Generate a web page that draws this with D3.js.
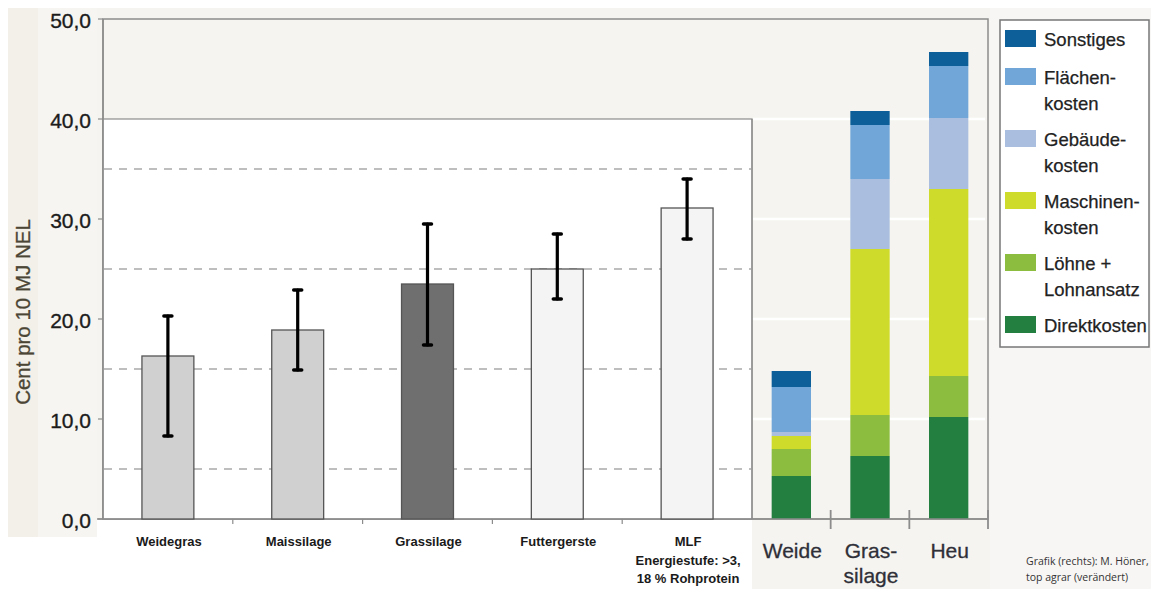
<!DOCTYPE html>
<html>
<head>
<meta charset="utf-8">
<script src="https://cdn.jsdelivr.net/npm/d3@7"></script>
<style>
  html, body { margin: 0; padding: 0; background: #fff; }
  svg { display: block; font-family: "Liberation Sans", Arial, sans-serif; }
</style>
</head>
<body>
<div id="chart"></div>
<script>
// left chart: mean cost per feed with min/max range
const leftCats = ["Weidegras", "Maissilage", "Grassilage", "Futtergerste", "MLF"];
const leftLabels = [["Weidegras"], ["Maissilage"], ["Grassilage"], ["Futtergerste"], ["MLF", "Energiestufe: >3,", "18 % Rohprotein"]];
const meanVals = [16.3, 18.9, 23.5, 25.0, 31.1];
const errLow = [8.3, 14.9, 17.4, 22.0, 28.0];
const errHigh = [20.3, 22.9, 29.5, 28.5, 34.0];

// right chart: cost components
const rightCats = ["Weide", "Grassilage", "Heu"];
const rightLabels = [["Weide"], ["Gras-", "silage"], ["Heu"]];
const costKeys = ["Direktkosten", "Löhne + Lohnansatz", "Maschinenkosten", "Gebäudekosten", "Flächenkosten", "Sonstiges"];
const direkt = [4.3, 6.3, 10.2];
const loehne = [2.7, 4.1, 4.1];
const maschinen = [1.3, 16.6, 18.7];
const gebaeude = [0.4, 7.0, 7.1];
const flaechen = [4.5, 5.4, 5.2];
const sonstiges = [1.6, 1.4, 1.4];

const yTicks = [0, 10, 20, 30, 40, 50];
const yTickLabels = ["0,0", "10,0", "20,0", "30,0", "40,0", "50,0"];
const dashTicks = [5, 15, 25, 35];
const legendOrder = ["Sonstiges", "Flächenkosten", "Gebäudekosten", "Maschinenkosten", "Löhne + Lohnansatz", "Direktkosten"];
const legendLines = [["Sonstiges"], ["Flächen-", "kosten"], ["Gebäude-", "kosten"], ["Maschinen-", "kosten"], ["Löhne +", "Lohnansatz"], ["Direktkosten"]];

const W = 1151, H = 589;
const colors = {
  "Direktkosten": "#237f3f",
  "Löhne + Lohnansatz": "#8cbd3f",
  "Maschinenkosten": "#cfdb2b",
  "Gebäudekosten": "#aabfdf",
  "Flächenkosten": "#70a7d8",
  "Sonstiges": "#0c5f99"
};
const barFill = ["#d0d0d0", "#d0d0d0", "#6f6f6f", "#f4f4f4", "#f4f4f4"];
const frame = "#8c8c8c";

const svg = d3.select("#chart").append("svg")
  .attr("width", W).attr("height", H);

// backgrounds of the two pasted pictures
svg.append("rect").attr("x", 0).attr("y", 0).attr("width", W).attr("height", H).attr("fill", "#fff");
svg.append("rect").attr("x", 8).attr("y", 8).attr("width", 982).attr("height", 511).attr("fill", "#f5f4f0");
svg.append("rect").attr("x", 8).attr("y", 8).attr("width", 89).attr("height", 529).attr("fill", "#f6f5f1");
svg.append("rect").attr("x", 8).attr("y", 8).attr("width", 30).attr("height", 529).attr("fill", "#f2f0e9");
svg.append("rect").attr("x", 752).attr("y", 8).attr("width", 238).attr("height", 581).attr("fill", "#f5f4f0");
svg.append("rect").attr("x", 990).attr("y", 8).attr("width", 161).attr("height", 581).attr("fill", "#f7f6f4");

const y = d3.scaleLinear().domain([0, 50]).range([519, 19]);

// outer frame
svg.append("rect").attr("x", 103).attr("y", y(50)).attr("width", 885).attr("height", y(0) - y(50))
  .attr("fill", "#f5f4f0").attr("stroke", frame).attr("stroke-width", 1.5);

// white plot area of left chart
svg.append("rect").attr("x", 103).attr("y", y(40)).attr("width", 649).attr("height", y(0) - y(40))
  .attr("fill", "#fff").attr("stroke", frame).attr("stroke-width", 1.2);

svg.selectAll(".dash").data(dashTicks).join("line")
  .attr("x1", 104).attr("x2", 751)
  .attr("y1", d => y(d)).attr("y2", d => y(d))
  .attr("stroke", "#a9a9a9").attr("stroke-width", 1.3).attr("stroke-dasharray", "8,7");

// right chart white grid
svg.selectAll(".rgrid").data([10, 20, 30, 40]).join("line")
  .attr("x1", 753).attr("x2", 985)
  .attr("y1", d => y(d)).attr("y2", d => y(d))
  .attr("stroke", "#fff").attr("stroke-width", 2.5);

// left y axis
svg.append("line").attr("x1", 103).attr("x2", 103).attr("y1", y(50)).attr("y2", y(0))
  .attr("stroke", frame).attr("stroke-width", 1.5);
svg.selectAll(".ytick").data(yTicks).join("line")
  .attr("x1", 98).attr("x2", 103).attr("y1", d => y(d)).attr("y2", d => y(d))
  .attr("stroke", frame).attr("stroke-width", 1.2);
svg.selectAll(".ylab").data(yTicks).join("text")
  .attr("x", 91).attr("y", d => y(d) + 9)
  .attr("text-anchor", "end").attr("font-size", 21).attr("fill", "#1c1c1c")
  .attr("stroke", "#1c1c1c").attr("stroke-width", 0.35)
  .text((d, i) => yTickLabels[i]);

svg.append("text")
  .attr("transform", "translate(30,312) rotate(-90)")
  .attr("text-anchor", "middle").attr("font-size", 20.5).attr("fill", "#4b4535")
  .attr("stroke", "#4b4535").attr("stroke-width", 0.3)
  .text("Cent pro 10 MJ NEL");

// left bars
const xL = d3.scaleBand().domain(leftCats).range([103, 752]).paddingInner(0.6).paddingOuter(0.3);
svg.append("line").attr("x1", 97).attr("x2", 752).attr("y1", y(0)).attr("y2", y(0))
  .attr("stroke", frame).attr("stroke-width", 1.5);
const bounds = leftCats.slice(1).map(c => xL(c) - xL.step() * xL.paddingInner() / 2);
svg.selectAll(".ltick").data(bounds).join("line")
  .attr("x1", d => d).attr("x2", d => d).attr("y1", y(0)).attr("y2", y(0) + 5)
  .attr("stroke", frame).attr("stroke-width", 1.2);

svg.selectAll(".lbar").data(leftCats).join("rect")
  .attr("x", d => xL(d)).attr("width", xL.bandwidth())
  .attr("y", (d, i) => y(meanVals[i])).attr("height", (d, i) => y(0) - y(meanVals[i]))
  .attr("fill", (d, i) => barFill[i]).attr("stroke", "#555").attr("stroke-width", 1.3);

const err = svg.append("g").attr("stroke", "#000").attr("stroke-linecap", "round");
leftCats.forEach((c, i) => {
  const cx = xL(c) + xL.bandwidth() / 2;
  err.append("line").attr("x1", cx).attr("x2", cx).attr("y1", y(errHigh[i])).attr("y2", y(errLow[i]))
    .attr("stroke-width", 3.2);
  [errHigh[i], errLow[i]].forEach(v => {
    err.append("line").attr("x1", cx - 4).attr("x2", cx + 4).attr("y1", y(v)).attr("y2", y(v))
      .attr("stroke-width", 3.5);
  });
});

svg.selectAll(".llab").data(leftCats).join("text")
  .attr("x", d => xL(d) + xL.bandwidth() / 2 + 1)
  .attr("y", 546)
  .attr("text-anchor", "middle").attr("font-size", 13).attr("font-weight", "bold").attr("fill", "#1a1a1a")
  .each(function (d, i) {
    const t = d3.select(this);
    leftLabels[i].forEach((line, k) => {
      t.append("tspan").attr("x", xL(d) + xL.bandwidth() / 2 + 1).attr("dy", k === 0 ? 0 : 18.6).text(line);
    });
  });

// right stacked bars
const xR = d3.scaleBand().domain(rightCats).range([752, 988]).paddingInner(0.5).paddingOuter(0.25);
const rows = rightCats.map((c, i) => ({
  cat: c,
  "Direktkosten": direkt[i],
  "Löhne + Lohnansatz": loehne[i],
  "Maschinenkosten": maschinen[i],
  "Gebäudekosten": gebaeude[i],
  "Flächenkosten": flaechen[i],
  "Sonstiges": sonstiges[i]
}));
const stacked = d3.stack().keys(costKeys)(rows);
svg.append("g").selectAll("g").data(stacked).join("g")
  .attr("fill", d => colors[d.key])
  .selectAll("rect").data(d => d).join("rect")
  .attr("x", d => xR(d.data.cat)).attr("width", xR.bandwidth())
  .attr("y", d => y(d[1])).attr("height", d => y(d[0]) - y(d[1]));

svg.append("line").attr("x1", 752).attr("x2", 988).attr("y1", y(0)).attr("y2", y(0))
  .attr("stroke", frame).attr("stroke-width", 1.5);
svg.append("line").attr("x1", 752).attr("x2", 752).attr("y1", y(40)).attr("y2", y(0))
  .attr("stroke", frame).attr("stroke-width", 1.3);
const rb = rightCats.slice(1).map(c => xR(c) - xR.step() * xR.paddingInner() / 2).concat([988]);
svg.selectAll(".rtick").data(rb).join("line")
  .attr("x1", d => d).attr("x2", d => d).attr("y1", 510).attr("y2", 529)
  .attr("stroke", frame).attr("stroke-width", 1.8);

svg.selectAll(".rlab").data(rightCats).join("text")
  .attr("y", 558)
  .attr("text-anchor", "middle").attr("font-size", 21).attr("fill", "#2f2f38")
  .attr("stroke", "#2f2f38").attr("stroke-width", 0.3)
  .each(function (d, i) {
    const t = d3.select(this);
    const cx = xR(d) + xR.bandwidth() / 2 + 1;
    rightLabels[i].forEach((line, k) => {
      t.append("tspan").attr("x", cx).attr("dy", k === 0 ? 0 : 25).text(line);
    });
  });

// legend
const lg = svg.append("g");
lg.append("rect").attr("x", 1000).attr("y", 20).attr("width", 149).attr("height", 327)
  .attr("fill", "#fff").attr("stroke", "#777").attr("stroke-width", 1.5);
let ly = 30;
legendOrder.forEach((key, i) => {
  lg.append("rect").attr("x", 1005).attr("y", ly).attr("width", 31).attr("height", 17).attr("fill", colors[key]);
  const t = lg.append("text").attr("x", 1044).attr("y", ly + 16)
    .attr("font-size", 18.5).attr("fill", "#222").attr("stroke", "#222").attr("stroke-width", 0.25);
  legendLines[i].forEach((line, k) => {
    t.append("tspan").attr("x", 1044).attr("dy", k === 0 ? 0 : 25.5).text(line);
  });
  ly += legendLines[i].length > 1 ? 62 : 38;
});

// credit
const cr = svg.append("text").attr("x", 1026).attr("y", 565)
  .attr("font-size", 10.5).attr("fill", "#333").attr("font-family", "'Open Sans', 'Liberation Sans', sans-serif");
cr.append("tspan").attr("x", 1026).text("Grafik (rechts): M. Höner,");
cr.append("tspan").attr("x", 1026).attr("dy", 16).text("top agrar (verändert)");
</script>
</body>
</html>
